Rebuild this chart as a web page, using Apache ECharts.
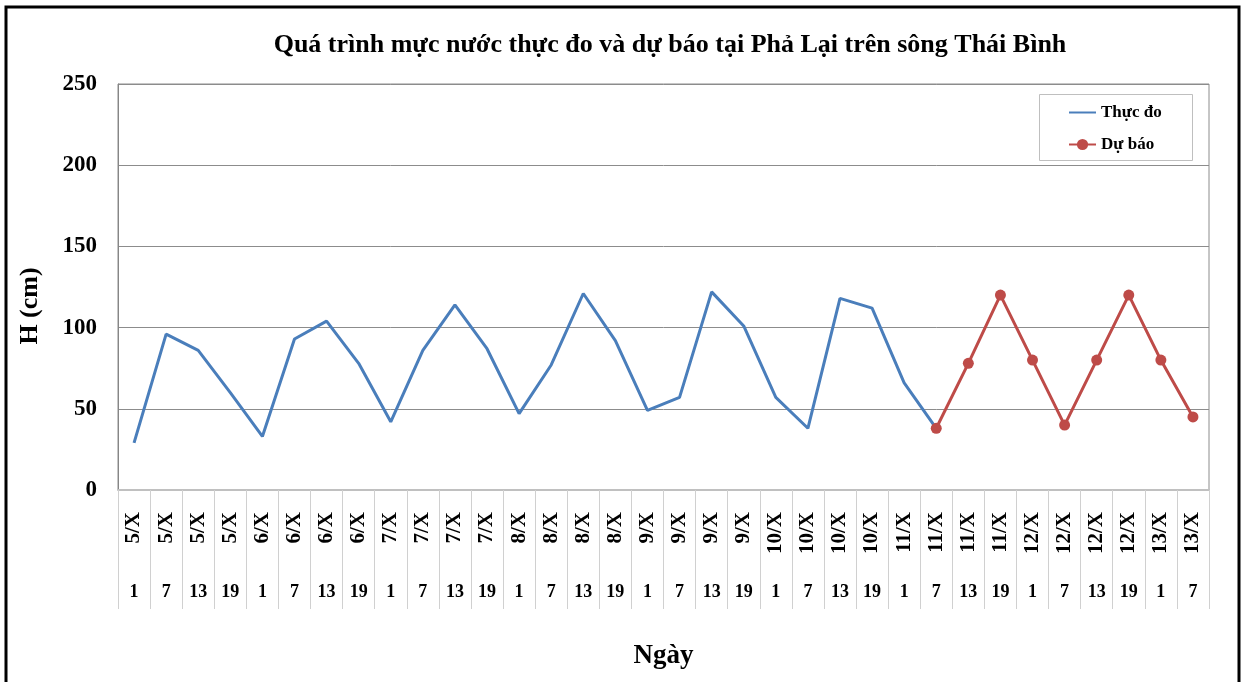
<!DOCTYPE html>
<html>
<head>
<meta charset="utf-8">
<script src="https://cdn.jsdelivr.net/npm/echarts@6/dist/echarts.min.js"></script>
<style>
  html, body { margin: 0; padding: 0; background: #fff; }
  #chart { width: 1245px; height: 682px; }
</style>
</head>
<body>
<div id="chart"></div>
<script>
// Category labels (two levels: date and hour)
const days = ["5/X","5/X","5/X","5/X","6/X","6/X","6/X","6/X","7/X","7/X","7/X","7/X",
  "8/X","8/X","8/X","8/X","9/X","9/X","9/X","9/X","10/X","10/X","10/X","10/X",
  "11/X","11/X","11/X","11/X","12/X","12/X","12/X","12/X","13/X","13/X"];
const hours = ["1","7","13","19","1","7","13","19","1","7","13","19",
  "1","7","13","19","1","7","13","19","1","7","13","19",
  "1","7","13","19","1","7","13","19","1","7"];

// Observed water level (cm)
const observed = [29, 96, 86, 60, 33, 93, 104, 78, 42, 86, 114, 87,
  47, 77, 121, 92, 49, 57, 122, 101, 57, 38, 118, 112, 66, 38];

// Forecast (starts at the last observed point)
const forecast = [null, null, null, null, null, null, null, null, null, null, null, null,
  null, null, null, null, null, null, null, null, null, null, null, null, null,
  38, 78, 120, 80, 40, 80, 120, 80, 45];

const yTicks = { min: 0, max: 250, interval: 50 };

const FONT = "'Liberation Serif', 'Times New Roman', serif";
const chart = echarts.init(document.getElementById("chart"));

chart.setOption({
  animation: false,
  title: {
    text: "Quá trình mực nước thực đo và dự báo tại Phả Lại trên sông Thái Bình",
    left: 665,
    textAlign: "center",
    top: 27,
    textStyle: { fontFamily: FONT, fontSize: 26, fontWeight: "bold", color: "#000" }
  },
  graphic: [
    {
      type: "rect",
      shape: { x: 6, y: 7, width: 1233, height: 700 },
      style: { fill: "none", stroke: "#000", lineWidth: 3 },
      silent: true
    },
    {
      type: "rect",
      shape: { x: 1039.5, y: 94.5, width: 153, height: 66 },
      style: { fill: "#fff", stroke: "#bfbfbf", lineWidth: 1 },
      silent: true
    },
    {
      type: "text",
      x: 30, y: 306,
      rotation: Math.PI / 2,
      style: {
        text: "H (cm)", align: "center", verticalAlign: "middle",
        font: "bold 26px " + FONT, fill: "#000"
      },
      silent: true
    }
  ],
  legend: {
    orient: "vertical",
    left: 1068,
    top: 104,
    itemWidth: 27,
    itemHeight: 14,
    itemGap: 15,
    padding: 0,
    textStyle: { fontFamily: FONT, fontSize: 17, fontWeight: "bold", color: "#000" },
    data: [
      { name: "Thực đo", itemStyle: { opacity: 0 } },
      "Dự báo"
    ]
  },
  grid: {
    left: 118, right: 36, top: 84, bottom: 192,
    show: true, borderColor: "#8c8c8c", borderWidth: 1,
    containLabel: false
  },
  xAxis: [
    {
      type: "category",
      data: days,
      boundaryGap: true,
      name: "Ngày",
      nameLocation: "middle",
      nameGap: 153,
      nameTextStyle: { fontFamily: FONT, fontSize: 27, fontWeight: "bold", color: "#000" },
      axisLine: { lineStyle: { color: "#c0c0c0", width: 2 } },
      axisTick: { show: true, interval: 0, length: 119, lineStyle: { color: "#d0d0d0", width: 1 } },
      axisLabel: {
        interval: 0, rotate: 90, margin: 22,
        fontFamily: FONT, fontSize: 21, fontWeight: "bold", color: "#000"
      }
    },
    {
      type: "category",
      data: hours,
      position: "bottom",
      boundaryGap: true,
      axisLine: { show: false },
      axisTick: { show: false },
      axisLabel: {
        interval: 0, margin: 93,
        fontFamily: FONT, fontSize: 18, fontWeight: "bold", color: "#000"
      }
    }
  ],
  yAxis: {
    type: "value",
    min: yTicks.min,
    max: yTicks.max,
    interval: yTicks.interval,
    axisLine: { show: true, lineStyle: { color: "#868686", width: 1 } },
    axisTick: { show: false },
    splitLine: { lineStyle: { color: "#8c8c8c", width: 1 } },
    axisLabel: { margin: 21, fontFamily: FONT, fontSize: 23, fontWeight: "bold", color: "#000" }
  },
  series: [
    {
      name: "Thực đo",
      type: "line",
      data: observed,
      symbol: "none",
      lineStyle: { color: "#4a7ebb", width: 3 },
      itemStyle: { color: "#4a7ebb" },
      z: 2
    },
    {
      name: "Dự báo",
      type: "line",
      data: forecast,
      symbol: "circle",
      symbolSize: 11,
      lineStyle: { color: "#be4b48", width: 3 },
      itemStyle: { color: "#be4b48" },
      z: 3
    }
  ]
});
</script>
</body>
</html>
